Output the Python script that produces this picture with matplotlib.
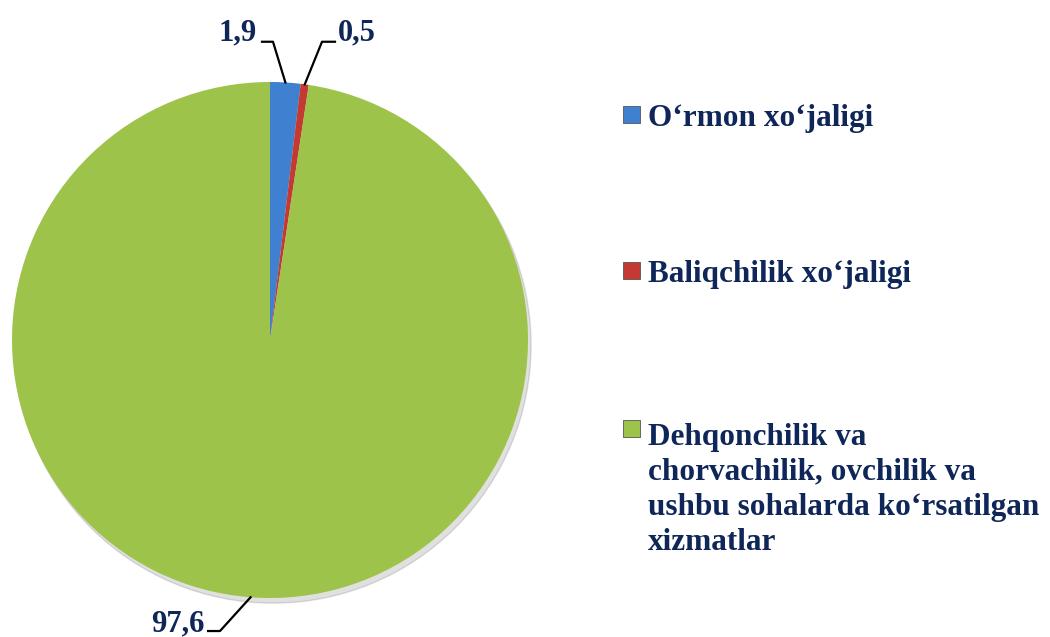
# Pie chart: tarmoqlar ulushi
import matplotlib
matplotlib.use('Agg')
import matplotlib.pyplot as plt
import numpy as np
from matplotlib.patches import Rectangle

plt.rcParams['font.family'] = ['Liberation Serif', 'DejaVu Serif']

labels = ['O\u2018rmon xo\u2018jaligi',
          'Baliqchilik xo\u2018jaligi',
          'Dehqonchilik va\nchorvachilik, ovchilik va\nushbu sohalarda ko\u2018rsatilgan\nxizmatlar']
values = [1.9, 0.5, 97.6]
value_labels = ['1,9', '0,5', '97,6']
colors = ['#3f80d0', '#c43a33', '#9dc34a']
text_color = '#0f2659'

fig = plt.figure(figsize=(10.5, 6.37), dpi=100)
W, H = 1050, 637

# pie axes: centre (270, 340) px, radius 258 px
cx, cy, r = 270, 340, 258
ax = fig.add_axes([(cx - r) / W, (H - cy - r) / H, 2 * r / W, 2 * r / H])
wedges, _ = ax.pie(values, colors=colors, startangle=90, counterclock=False,
                   radius=1, wedgeprops=dict(edgecolor='none'))
ax.set_xlim(-1, 1)
ax.set_ylim(-1, 1)
ax.set_aspect('equal')
ax.axis('off')

# shadow under the pie
sh = plt.Circle((0.012, -0.02), 1.0, color='#000000', alpha=0.12, zorder=0, clip_on=False)
ax.add_patch(sh)

# leader lines: (elbow, end, text pos) in data units
leaders = [
    ((0.0116, 1.156), (-0.031, 1.156), (-0.050, 1.163), 'right'),
    ((0.2016, 1.156), (0.2519, 1.156), (0.2636, 1.163), 'left'),
    ((-0.1938, -1.128), (-0.240, -1.128), (-0.252, -1.128), 'right'),
]
for w, lab, (elb, end, tp, ha) in zip(wedges, value_labels, leaders):
    ang = np.deg2rad((w.theta1 + w.theta2) / 2)
    ax0, ay0 = np.cos(ang), np.sin(ang)
    ax.plot([ax0, elb[0], end[0]], [ay0, elb[1], end[1]], color='black',
            lw=1.6, clip_on=False, zorder=5)
    ax.text(tp[0], tp[1], lab, ha=ha, va='baseline', fontsize=22,
            fontweight='bold', color=text_color, clip_on=False)

# legend on the right
leg_y = [114, 270, 428]   # marker centres, px
line_h = 36.7
for lab, c, y in zip(labels, colors, leg_y):
    fig.patches.append(Rectangle((623 / W, (H - y - 8.5) / H), 17 / W, 17 / H,
                                 transform=fig.transFigure, facecolor=c,
                                 edgecolor='#555555', lw=0.6))
    nlines = lab.count('\n')
    base = y + 12 + nlines * line_h   # baseline of last line
    fig.text(648 / W, (H - base) / H, lab, ha='left', va='baseline',
             fontsize=22.5, fontweight='bold', color=text_color, linespacing=1.28)

fig.savefig('out.png', dpi=100, facecolor='white')
